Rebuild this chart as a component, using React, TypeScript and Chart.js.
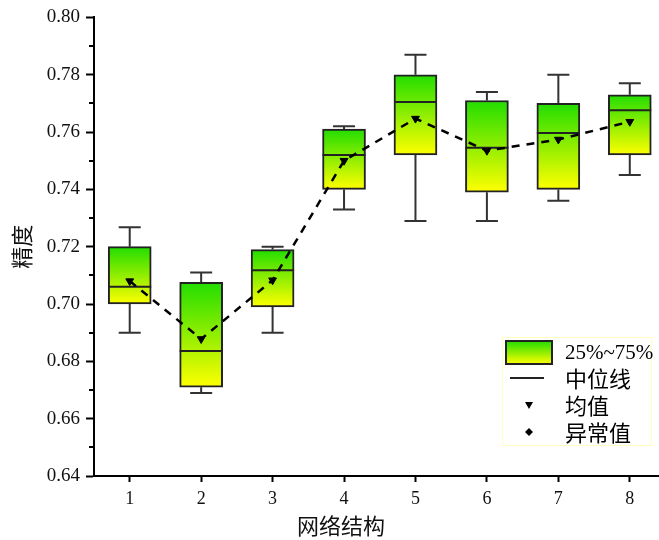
import React, { useEffect, useRef } from 'react';
import { Chart, registerables } from 'chart.js';

Chart.register(...registerables);

const categories = [1, 2, 3, 4, 5, 6, 7, 8];
const whiskerLow = [0.690, 0.669, 0.690, 0.733, 0.729, 0.729, 0.736, 0.745];
const q1 = [0.700, 0.671, 0.699, 0.740, 0.752, 0.739, 0.740, 0.752];
const median = [0.706, 0.6836, 0.7118, 0.752, 0.7705, 0.7545, 0.7597, 0.7676];
const q3 = [0.720, 0.7076, 0.719, 0.761, 0.780, 0.771, 0.770, 0.773];
const whiskerHigh = [0.7268, 0.711, 0.720, 0.762, 0.787, 0.774, 0.780, 0.777];
const means = [0.708, 0.6878, 0.7083, 0.750, 0.7647, 0.7535, 0.7574, 0.7636];
const yTicks = [0.64, 0.66, 0.68, 0.70, 0.72, 0.74, 0.76, 0.78, 0.80];
const yMinorTicks = [0.65, 0.67, 0.69, 0.71, 0.73, 0.75, 0.77, 0.79];
const legendLabels = ['25%~75%', '中位线', '均值', '异常值'];
const xTitle = '网络结构';
const yTitle = '精度';

const GREEN = '#22dd00';
const YELLOW = '#ffff00';
const EDGE = '#222222';
const BOX_W = 43;
const CAP_W = 22;
const SERIF = '"Liberation Serif", "DejaVu Serif", serif';
const CJK = '"Noto Sans CJK SC", "Noto Sans", sans-serif';

const boxPlugin = {
  id: 'boxExtras',
  beforeDatasetsDraw(chart: any) {
    const { ctx, scales } = chart;
    const x = scales.x, y = scales.y;
    ctx.save();
    ctx.strokeStyle = '#333333';
    ctx.lineWidth = 2;
    categories.forEach((c, i) => {
      const px = x.getPixelForValue(c);
      const yHi = y.getPixelForValue(whiskerHigh[i]);
      const yLo = y.getPixelForValue(whiskerLow[i]);
      const yQ3 = y.getPixelForValue(q3[i]);
      const yQ1 = y.getPixelForValue(q1[i]);
      ctx.beginPath();
      ctx.moveTo(px, yQ3); ctx.lineTo(px, yHi);
      ctx.moveTo(px - CAP_W / 2, yHi); ctx.lineTo(px + CAP_W / 2, yHi);
      ctx.moveTo(px, yQ1); ctx.lineTo(px, yLo);
      ctx.moveTo(px - CAP_W / 2, yLo); ctx.lineTo(px + CAP_W / 2, yLo);
      ctx.stroke();
    });
    ctx.restore();
  },
  afterDatasetDraw(chart: any, args: any) {
    if (args.index !== 0) return;
    const { ctx, scales } = chart;
    ctx.save();
    ctx.strokeStyle = EDGE;
    ctx.lineWidth = 2;
    categories.forEach((c, i) => {
      const px = scales.x.getPixelForValue(c);
      const py = scales.y.getPixelForValue(median[i]);
      ctx.beginPath();
      ctx.moveTo(px - BOX_W / 2, py);
      ctx.lineTo(px + BOX_W / 2, py);
      ctx.stroke();
    });
    ctx.restore();
  },
  afterDraw(chart: any) {
    const { ctx, scales, chartArea } = chart;
    ctx.save();
    ctx.strokeStyle = '#000';
    ctx.lineWidth = 2;
    yMinorTicks.forEach((v) => {
      const py = Math.round(scales.y.getPixelForValue(v));
      ctx.beginPath();
      ctx.moveTo(chartArea.left - 5, py);
      ctx.lineTo(chartArea.left, py);
      ctx.stroke();
    });
    // x axis title
    ctx.fillStyle = '#111';
    ctx.font = `22px ${CJK}`;
    ctx.textAlign = 'center';
    ctx.textBaseline = 'middle';
    ctx.fillText(xTitle, 341, 526);
    // legend
    const lx = 502, ly = 337, lw = 149, lh = 108;
    ctx.strokeStyle = '#ffffc0';
    ctx.lineWidth = 1;
    ctx.strokeRect(lx + 0.5, ly + 0.5, lw, lh);
    const rows = [352, 378, 405, 432];
    const g = ctx.createLinearGradient(0, 341, 0, 364);
    g.addColorStop(0, GREEN);
    g.addColorStop(1, YELLOW);
    ctx.fillStyle = g;
    ctx.fillRect(506, 341, 46, 23);
    ctx.strokeStyle = EDGE;
    ctx.lineWidth = 2;
    ctx.strokeRect(506, 341, 46, 23);
    ctx.beginPath();
    ctx.moveTo(510, rows[1]);
    ctx.lineTo(544, rows[1]);
    ctx.stroke();
    ctx.fillStyle = '#000';
    ctx.beginPath();
    ctx.moveTo(525, rows[2] - 3);
    ctx.lineTo(533, rows[2] - 3);
    ctx.lineTo(529, rows[2] + 4);
    ctx.closePath();
    ctx.fill();
    ctx.beginPath();
    ctx.moveTo(529, rows[3] - 4);
    ctx.lineTo(533, rows[3]);
    ctx.lineTo(529, rows[3] + 4);
    ctx.lineTo(525, rows[3]);
    ctx.closePath();
    ctx.fill();
    ctx.textBaseline = 'middle';
    ctx.textAlign = 'left';
    legendLabels.forEach((t, i) => {
      ctx.font = i === 0 ? `21px ${SERIF}` : `22px ${CJK}`;
      ctx.fillText(t, 565, rows[i] + 1);
    });
    ctx.restore();
  },
};

export default function App() {
  const ref = useRef<HTMLCanvasElement>(null);
  useEffect(() => {
    if (!ref.current) return;
    const chart = new Chart(ref.current, {
      type: 'bar',
      data: {
        datasets: [
          {
            type: 'bar',
            label: '25%~75%',
            data: categories.map((c, i) => ({ x: c, y: [q1[i], q3[i]] })) as any,
            barThickness: BOX_W,
            borderColor: EDGE,
            borderWidth: 2,
            borderSkipped: false,
            order: 2,
            backgroundColor: (context: any) => {
              const ch = context.chart;
              const ys = ch.scales && ch.scales.y;
              if (!ys || context.type !== 'data') return GREEN;
              const i = context.dataIndex;
              const top = ys.getPixelForValue(q3[i]);
              const bot = ys.getPixelForValue(q1[i]);
              if (!isFinite(top) || !isFinite(bot) || top === bot) return GREEN;
              const gr = ch.ctx.createLinearGradient(0, top, 0, bot);
              gr.addColorStop(0, GREEN);
              gr.addColorStop(1, YELLOW);
              return gr;
            },
          } as any,
          {
            type: 'line',
            label: '均值',
            data: categories.map((c, i) => ({ x: c, y: means[i] })),
            borderColor: '#000',
            borderWidth: 2.5,
            borderDash: [8, 7],
            pointStyle: 'triangle',
            rotation: 180,
            pointRadius: 4.5,
            pointBackgroundColor: '#000',
            pointBorderColor: '#000',
            pointBorderWidth: 1,
            order: 1,
          } as any,
        ],
      },
      options: {
        animation: false,
        responsive: false,
        devicePixelRatio: 1,
        layout: { padding: { top: 15, right: 0, left: 8, bottom: 0 } },
        plugins: { legend: { display: false }, tooltip: { enabled: false } },
        scales: {
          x: {
            type: 'linear',
            offset: false,
            min: 0.5,
            max: 8.43,
            afterBuildTicks: (s: any) => {
              s.ticks = categories.map((v) => ({ value: v }));
            },
            afterFit: (s: any) => {
              s.height = 64;
            },
            grid: { offset: false, drawOnChartArea: false, tickLength: 6, color: '#000', tickWidth: 2 },
            border: { display: true, color: '#000', width: 2 },
            ticks: {
              color: '#111',
              font: { family: SERIF, size: 18 },
              padding: 6,
              callback: (v: any) => String(v),
            },
            title: { display: false, text: xTitle },
          },
          y: {
            type: 'linear',
            min: 0.64,
            max: 0.80,
            afterBuildTicks: (s: any) => {
              s.ticks = yTicks.map((v) => ({ value: v }));
            },
            afterFit: (s: any) => {
              s.width = 86;
            },
            grid: { drawOnChartArea: false, tickLength: 8, color: '#000', tickWidth: 2 },
            border: { display: true, color: '#000', width: 2 },
            ticks: {
              color: '#111',
              font: { family: SERIF, size: 19 },
              padding: 6,
              callback: (v: any) => Number(v).toFixed(2),
            },
            title: {
              display: true,
              text: yTitle,
              color: '#111',
              font: { family: CJK, size: 22 },
              padding: { top: 0, bottom: 0 },
            },
          },
        },
      },
      plugins: [boxPlugin],
    });
    return () => chart.destroy();
  }, []);
  return (
    <div style={{ position: 'absolute', left: 0, top: 0, width: 659, height: 540, overflow: 'hidden', background: '#fff' }}>
      <canvas ref={ref} width={666} height={540} style={{ display: 'block' }} />
    </div>
  );
}
